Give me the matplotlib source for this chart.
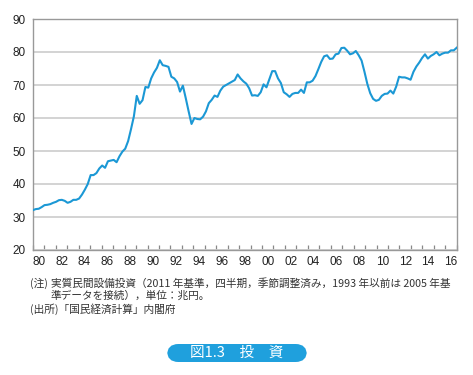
import numpy as np
import matplotlib
matplotlib.use("Agg")
import matplotlib.pyplot as plt
from matplotlib.patches import FancyBboxPatch

plt.rcParams["font.family"] = ["Liberation Sans", "DejaVu Sans"]

# real private non-residential investment, quarterly 1980Q1-2016Q4 (trillion yen)
invest = [
    32.1, 32.4, 32.5, 33.0,  # 1980
    33.6, 33.7, 33.9, 34.3,  # 1981
    34.6, 35.1, 35.2, 34.9,  # 1982
    34.3, 34.6, 35.2, 35.2,  # 1983
    35.6, 36.8, 38.3, 40.0,  # 1984
    42.7, 42.7, 43.3, 44.7,  # 1985
    45.6, 44.9, 46.9, 47.1,  # 1986
    47.3, 46.6, 48.4, 49.8,  # 1987
    50.7, 53.0, 56.6, 60.5,  # 1988
    66.7, 64.3, 65.4, 69.4,  # 1989
    69.2, 72.0, 73.8, 75.2,  # 1990
    77.5, 76.0, 75.8, 75.5,  # 1991
    72.5, 72.0, 70.9, 68.0,  # 1992
    69.8, 66.0, 62.0, 58.2,  # 1993
    60.0, 59.7, 59.6, 60.4,  # 1994
    62.0, 64.5, 65.5, 66.8,  # 1995
    66.4, 68.3, 69.5, 70.0,  # 1996
    70.5, 71.0, 71.5, 73.2,  # 1997
    72.0, 71.1, 70.4, 69.0,  # 1998
    66.8, 66.9, 66.7, 67.8,  # 1999
    70.2, 69.3, 71.8, 74.2,  # 2000
    74.2, 72.0, 70.6, 67.8,  # 2001
    67.2, 66.4, 67.3, 67.6,  # 2002
    67.6, 68.6, 67.6, 70.8,  # 2003
    70.8, 71.3, 72.7, 74.8,  # 2004
    77.0, 78.7, 79.0, 77.9,  # 2005
    78.0, 79.3, 79.5, 81.2,  # 2006
    81.3, 80.4, 79.3, 79.6,  # 2007
    80.3, 79.0, 77.4, 74.0,  # 2008
    70.3, 67.5, 65.8, 65.2,  # 2009
    65.5, 66.7, 67.3, 67.4,  # 2010
    68.3, 67.4, 69.5, 72.5,  # 2011
    72.3, 72.3, 72.0, 71.6,  # 2012
    74.0, 75.6, 76.8, 78.2,  # 2013
    79.3, 78.0, 78.8, 79.3,  # 2014
    80.0, 79.0, 79.5, 79.8,  # 2015
    79.8, 80.5, 80.5, 81.3,  # 2016
]
years = list(range(1980, 2018))
year_labels = ["%02d" % (y % 100) for y in range(1980, 2017, 2)]
yticks = [20, 30, 40, 50, 60, 70, 80, 90]

note_tag = "(注)"
note1 = "実質民間設備投資（2011 年基準，四半期，季節調整済み，1993 年以前は 2005 年基"
note2 = "準データを接続），単位：兆円。"
source = "(出所)「国民経済計算」内閣府"
caption = "図1.3　投　資"

W, H = 473, 375
fig = plt.figure(figsize=(W / 100, H / 100), dpi=100)
ax = fig.add_axes([33 / W, 1 - 250 / H, (456.7 - 33) / W, (250 - 19) / H])

x = np.linspace(1980, 2017, len(invest))
ax.plot(x, invest, color="#1b98d5", lw=1.5, zorder=3)

ax.set_xlim(1980, 2017)
ax.set_ylim(20, 90)
ax.set_yticks(yticks)
ax.yaxis.grid(True, color="#d0d0d0", lw=1.3)
ax.set_axisbelow(True)
ax.tick_params(axis="y", length=0, pad=5, labelsize=8.5, labelcolor="#222222")

ax.set_xticks(years)
ax.set_xticklabels([])
ax.set_xticks([y + 0.5 for y in range(1980, 2017, 2)], minor=True)
ax.set_xticklabels(year_labels, minor=True)
ax.tick_params(axis="x", which="major", direction="in", length=3.5,
               color="#888888", width=0.9)
ax.tick_params(axis="x", which="minor", length=0, pad=4, labelsize=8.5,
               labelcolor="#222222")

for s in ax.spines.values():
    s.set_color("#999999")
    s.set_linewidth(1.0)

jp = ["Noto Sans CJK JP", "DejaVu Sans"]


def px(xp, yp):
    return xp / W, 1 - yp / H


fs = 7.7
fig.text(*px(30, 283), note_tag, family=jp, fontsize=fs, va="center",
         color="#333333")
fig.text(*px(51, 283), note1, family=jp, fontsize=fs, va="center",
         color="#333333")
fig.text(*px(51, 296), note2, family=jp, fontsize=fs, va="center",
         color="#333333")
fig.text(*px(30, 309), source, family=jp, fontsize=fs, va="center",
         color="#333333")

bx0, by0, bw, bh = 167 / W, 1 - 362 / H, 140 / W, 18 / H
badge = FancyBboxPatch((bx0, by0), bw, bh, boxstyle="round,pad=0,rounding_size=0.024",
                       transform=fig.transFigure, facecolor="#1fa0dd",
                       edgecolor="none", mutation_aspect=W / H)
fig.patches.append(badge)
fig.text(bx0 + bw / 2, by0 + bh / 2, caption, family=jp, fontsize=10.5,
         color="white", ha="center", va="center")

fig.savefig("out.png", dpi=100)
